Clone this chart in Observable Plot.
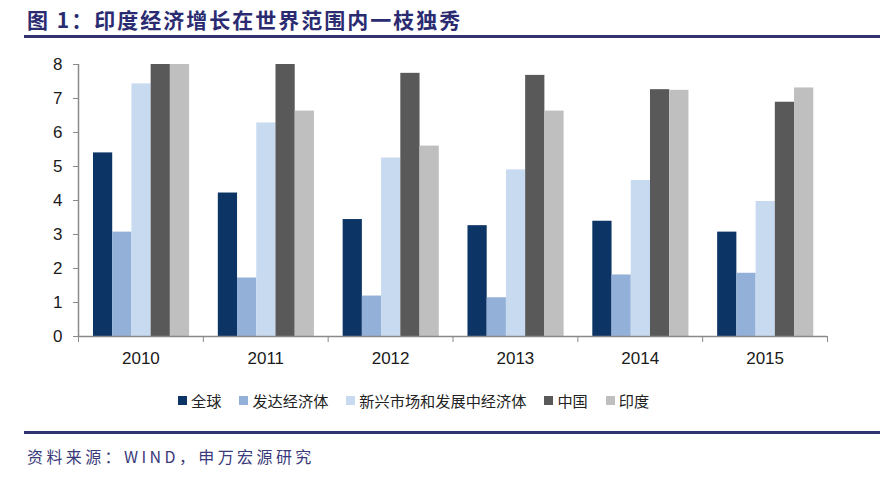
<!DOCTYPE html>
<html>
<head>
<meta charset="utf-8">
<script src="https://cdn.jsdelivr.net/npm/d3@7"></script>
<script src="https://cdn.jsdelivr.net/npm/@observablehq/plot@0.6"></script>
<style>
  html, body { margin: 0; padding: 0; background: #fff; }
  #root { position: relative; width: 880px; height: 479px; overflow: hidden; background: #fff; }
  #title { position: absolute; left: 27px; top: 6px; font-family: "Noto Sans CJK SC", sans-serif; font-weight: bold; font-size: 21px; letter-spacing: 2px; color: #2b2b72; white-space: nowrap; line-height: 26px; }
  .rule { position: absolute; left: 24px; right: 0; height: 3px; background: #33336f; }
  #chart { position: absolute; left: 0; top: 48px; }
  #legend { position: absolute; left: 178px; top: 390px; display: flex; align-items: center; font-family: "Noto Sans CJK SC", sans-serif; font-size: 15.2px; color: #222; white-space: nowrap; line-height: 20px; }
  #legend .item { display: flex; align-items: center; margin-right: 18px; }
  #legend .sw { width: 9px; height: 9px; margin-right: 4px; }
  #caption { position: absolute; left: 27px; top: 445px; font-family: "Noto Sans CJK SC", sans-serif; font-size: 16px; letter-spacing: 3.4px; color: #3a3a7a; white-space: nowrap; line-height: 22px; }
</style>
</head>
<body>
<div id="root">
  <div id="title">图 1：印度经济增长在世界范围内一枝独秀</div>
  <div class="rule" style="top:35px"></div>
  <div id="chart"></div>
  <div id="legend"></div>
  <div class="rule" style="top:431px"></div>
  <div id="caption">资料来源：WIND，申万宏源研究</div>
</div>
<script>
const years = ["2010", "2011", "2012", "2013", "2014", "2015"];
const series = ["全球", "发达经济体", "新兴市场和发展中经济体", "中国", "印度"];
const colors = ["#0c3565", "#93b1d8", "#c8daf0", "#595959", "#bfbfbf"];
const yTicks = [0, 1, 2, 3, 4, 5, 6, 7, 8];

const world    = [5.40, 4.22, 3.44, 3.26, 3.39, 3.07];
const advanced = [3.07, 1.72, 1.19, 1.14, 1.81, 1.86];
const emerging = [7.43, 6.28, 5.25, 4.90, 4.59, 3.97];
const china    = [8.00, 8.00, 7.74, 7.68, 7.26, 6.89];
const india    = [8.00, 6.63, 5.60, 6.63, 7.24, 7.31];
const values = [world, advanced, emerging, china, india];

// layout of bars inside each year band (in band units)
const groupStart = 0.12, barW = 0.154;
const rows = [];
years.forEach((yr, i) => {
  series.forEach((s, k) => {
    const x1 = i - 0.5 + groupStart + k * barW;
    rows.push({year: yr, series: s, value: values[k][i], x1, x2: x1 + barW});
  });
});
const idx = years.map((_, i) => i);
const bounds = d3.range(-0.5, years.length, 1);

const chart = Plot.plot({
  width: 880,
  height: 332,
  marginLeft: 78,
  marginRight: 53,
  marginTop: 16,
  marginBottom: 44,
  style: {fontFamily: "'Liberation Sans', Arial, sans-serif", fontSize: "17px", background: "#fff", overflow: "visible"},
  x: {domain: [-0.5, years.length - 0.5], axis: null},
  y: {domain: [0, 8], axis: null},
  color: {domain: series, range: colors},
  marks: [
    Plot.rect(rows, {x1: "x1", x2: "x2", y1: 0, y2: "value", fill: "series"}),
    Plot.ruleX([-0.5], {stroke: "#8a8a8a", strokeWidth: 1.5}),
    Plot.ruleY([0], {stroke: "#8a8a8a", strokeWidth: 1.5}),
    Plot.axisY({ticks: yTicks, label: null, tickSize: 5, tickPadding: 11, stroke: "#8a8a8a", fill: "#1a1a1a", fontSize: 17, tickFormat: d => String(d)}),
    Plot.axisX({ticks: bounds, label: null, tickSize: 6, stroke: "#8a8a8a", tickFormat: () => ""}),
    Plot.axisX({ticks: idx, label: null, tickSize: 0, tickPadding: 15, fill: "#1a1a1a", fontSize: 17, tickFormat: i => years[i]})
  ]
});
document.getElementById("chart").appendChild(chart);

const legend = document.getElementById("legend");
series.forEach((s, k) => {
  const item = document.createElement("div");
  item.className = "item";
  const sw = document.createElement("span");
  sw.className = "sw";
  sw.style.background = colors[k];
  const t = document.createElement("span");
  t.textContent = s;
  item.appendChild(sw);
  item.appendChild(t);
  legend.appendChild(item);
});
</script>
</body>
</html>
